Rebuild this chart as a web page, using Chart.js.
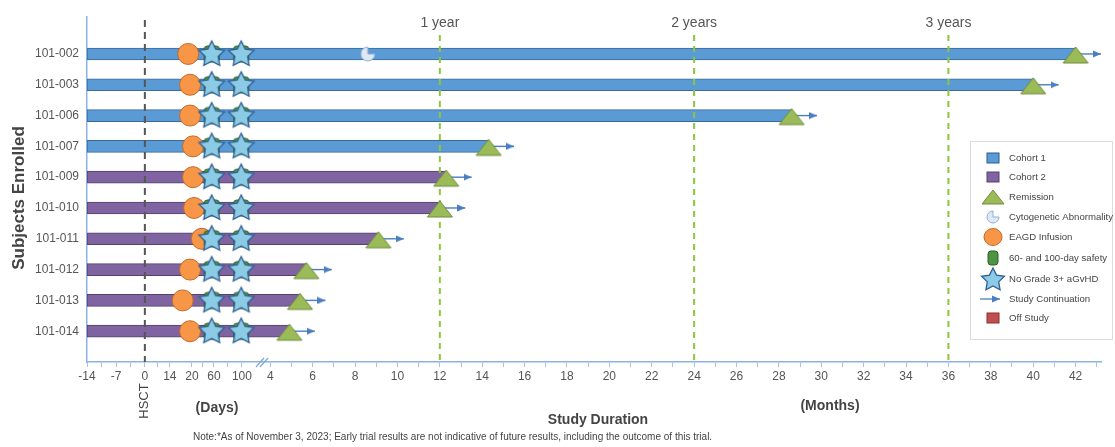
<!DOCTYPE html>
<html>
<head>
<meta charset="utf-8">
<script src="https://cdn.jsdelivr.net/npm/chart.js@4.4.0/dist/chart.umd.min.js"></script>
<style>
  body { margin: 0; background: #fff; }
  #wrap { position: relative; width: 1115px; height: 447px; }
</style>
</head>
<body>
<div id="wrap"><canvas id="myChart"></canvas></div>
<script>
// ---- data ----
const subjects = ['101-002', '101-003', '101-006', '101-007', '101-009', '101-010', '101-011', '101-012', '101-013', '101-014'];
const cohort = [1, 1, 1, 1, 2, 2, 2, 2, 2, 2];
const infusionDays = [19, 19.5, 19.5, 22, 22, 24, 38, 19.5, 17.5, 19.5];   // EAGD infusion (days)
const safetyDays = [56, 99];                                              // 60- and 100-day safety
const noGvhdDays = [56, 99];                                              // no grade 3+ aGvHD
const studyEndMonths = [42, 40, 28.6, 14.3, 12.3, 12, 9.1, 5.7, 5.4, 4.9];
const remissionMonths = [42, 40, 28.6, 14.3, 12.3, 12, 9.1, 5.7, 5.4, 4.9];
const continuationTipMonths = [43.2, 41.2, 29.8, 15.5, 13.5, 13.2, 10.3, 6.9, 6.6, 6.1];
const cytoSubjects = [0];
const cytoMonths = [8.6];
const studyStartDay = -14;

const dayTicks = [-14, -7, 0, 14, 20, 60, 100];
const monthTicks = [4, 6, 8, 10, 12, 14, 16, 18, 20, 22, 24, 26, 28, 30, 32, 34, 36, 38, 40, 42];
const yearMonths = [12, 24, 36];
const yearLabels = ['1 year', '2 years', '3 years'];

// ---- broken x axis: days section is squeezed in front of the months ----
const dayAnchor = [-14, -7, 0, 14, 20, 60, 100];
const dayAxisPos = [-4.65, -3.28, -1.92, -0.74, 0.30, 1.34, 2.66];
function dayPos(d) {
  for (let i = 0; i < dayAnchor.length - 1; i++) {
    if (d <= dayAnchor[i + 1] || i === dayAnchor.length - 2) {
      const t = (d - dayAnchor[i]) / (dayAnchor[i + 1] - dayAnchor[i]);
      return dayAxisPos[i] + t * (dayAxisPos[i + 1] - dayAxisPos[i]);
    }
  }
}

const FONT = "'Helvetica Neue', Helvetica, 'Liberation Sans', Arial, sans-serif";

// ---- marker icons ----
function makeIcon(w, h, draw) {
  const c = document.createElement('canvas');
  c.width = w; c.height = h;
  draw(c.getContext('2d'), w, h);
  return c;
}
function starPath(ctx, cx, cy, R, r) {
  ctx.beginPath();
  for (let k = 0; k < 10; k++) {
    const a = -Math.PI / 2 + k * Math.PI / 5;
    const rad = k % 2 ? r : R;
    ctx.lineTo(cx + Math.cos(a) * rad, cy + Math.sin(a) * rad);
  }
  ctx.closePath();
}
function drawStar(ctx, cx, cy, R) {
  starPath(ctx, cx, cy, R, R * 0.5);
  ctx.fillStyle = '#8ccbe5';
  ctx.fill();
  ctx.strokeStyle = '#2f5f91';
  ctx.lineWidth = 1.3;
  ctx.stroke();
}
function drawTri(ctx, cx, cy, w, h) {
  ctx.beginPath();
  ctx.moveTo(cx - w / 2, cy + h / 2);
  ctx.lineTo(cx + w / 2, cy + h / 2);
  ctx.lineTo(cx, cy - h / 2);
  ctx.closePath();
  ctx.fillStyle = '#9bbb59';
  ctx.fill();
  ctx.strokeStyle = '#6f8c3a';
  ctx.lineWidth = 1;
  ctx.stroke();
}
function drawCyto(ctx, cx, cy, r) {
  ctx.beginPath();
  ctx.moveTo(cx, cy);
  ctx.arc(cx, cy, r, 0, Math.PI * 1.5);
  ctx.closePath();
  ctx.fillStyle = '#dfe8f3';
  ctx.fill();
  ctx.strokeStyle = '#8fb0d6';
  ctx.lineWidth = 1;
  ctx.stroke();
}
function drawSafety(ctx, x, y, w, h) {
  ctx.beginPath();
  ctx.roundRect(x, y, w, h, 3);
  ctx.fillStyle = '#4e9444';
  ctx.fill();
  ctx.strokeStyle = '#2c5f27';
  ctx.lineWidth = 1;
  ctx.stroke();
}

const starImg = makeIcon(30, 30, (ctx) => drawStar(ctx, 15, 15.5, 13.5));
const safetyImg = makeIcon(20, 20, (ctx) => drawSafety(ctx, 2.5, 2, 15, 16));
const triImg = makeIcon(28, 22, (ctx) => drawTri(ctx, 14, 12, 25, 16));
const cytoImg = makeIcon(18, 18, (ctx) => drawCyto(ctx, 9, 9, 7));
const arrowImg = makeIcon(16, 8, (ctx) => {
  ctx.beginPath();
  ctx.moveTo(0, 0.5); ctx.lineTo(8, 4); ctx.lineTo(0, 7.5); ctx.closePath();
  ctx.fillStyle = '#4a7ebf';
  ctx.fill();
});

// ---- datasets ----
const barStart = dayPos(studyStartDay);
function cohortBars(n) {
  return subjects.map((s, i) => i).filter(i => cohort[i] === n)
    .map(i => ({ x: [barStart, studyEndMonths[i]], y: i }));
}

const barCommon = {
  type: 'bar', indexAxis: 'y', barThickness: 12, grouped: false,
  borderWidth: 1, borderSkipped: false
};

const datasets = [
  { ...barCommon, label: 'Cohort 1', data: cohortBars(1), backgroundColor: '#5b9bd5', borderColor: '#3a6a9c', order: 11 },
  { ...barCommon, label: 'Cohort 2', data: cohortBars(2), backgroundColor: '#8064a2', borderColor: '#55406f', order: 10 },
];

subjects.forEach((s, i) => {
  datasets.push({
    type: 'line', label: 'cont ' + s, order: 6,
    data: [{ x: studyEndMonths[i], y: i }, { x: continuationTipMonths[i], y: i }],
    borderColor: '#4a7ebf', borderWidth: 1.4, pointRadius: 0
  });
});

datasets.push({
  type: 'line', label: 'Study Continuation', order: 5, showLine: false,
  data: continuationTipMonths.map((m, i) => ({ x: m, y: i })),
  pointStyle: arrowImg, pointRadius: 4
});
datasets.push({
  type: 'line', label: 'Cytogenetic Abnormality', order: 5, showLine: false,
  data: cytoSubjects.map((r, k) => ({ x: cytoMonths[k], y: r })),
  pointStyle: cytoImg, pointRadius: 7
});
datasets.push({
  type: 'line', label: 'Remission', order: 4, showLine: false,
  data: remissionMonths.map((m, i) => ({ x: m, y: i })),
  pointStyle: triImg, pointRadius: 10
});
datasets.push({
  type: 'line', label: 'EAGD Infusion', order: 3, showLine: false,
  data: infusionDays.map((d, i) => ({ x: dayPos(d), y: i })),
  pointStyle: 'circle', pointRadius: 10.5, pointBackgroundColor: '#f79646',
  pointBorderColor: '#c56a28', pointBorderWidth: 1
});
datasets.push({
  type: 'line', label: '60- and 100-day safety', order: 2, showLine: false,
  data: subjects.flatMap((s, i) => safetyDays.map(d => ({ x: dayPos(d), y: i }))),
  pointStyle: safetyImg, pointRadius: 8
});
datasets.push({
  type: 'line', label: 'No Grade 3+ aGvHD', order: 1, showLine: false,
  data: subjects.flatMap((s, i) => noGvhdDays.map(d => ({ x: dayPos(d), y: i }))),
  pointStyle: starImg, pointRadius: 13
});

// ---- extra drawing: reference lines, titles, legend ----
const overlay = {
  id: 'overlay',
  afterDatasetDraw(chart, args) {
    if (args.meta.label !== 'Cohort 2') return;
    const { ctx, chartArea, scales: { x } } = chart;
    ctx.save();
    // HSCT line
    ctx.setLineDash([7, 5]);
    ctx.strokeStyle = '#555';
    ctx.lineWidth = 2;
    const hx = x.getPixelForValue(dayPos(0));
    ctx.beginPath(); ctx.moveTo(hx, 20); ctx.lineTo(hx, chartArea.bottom); ctx.stroke();
    // year lines
    ctx.setLineDash([6, 5]);
    ctx.strokeStyle = '#8cc63e';
    yearMonths.forEach(m => {
      const px = x.getPixelForValue(m);
      ctx.beginPath(); ctx.moveTo(px, 35); ctx.lineTo(px, chartArea.bottom); ctx.stroke();
    });
    ctx.restore();
  },
  afterDraw(chart) {
    const { ctx, chartArea, scales: { x } } = chart;
    ctx.save();
    ctx.textBaseline = 'middle';
    // year labels
    ctx.fillStyle = '#555';
    ctx.font = '14px ' + FONT;
    ctx.textAlign = 'center';
    yearMonths.forEach((m, k) => ctx.fillText(yearLabels[k], x.getPixelForValue(m), 23));

    // axis break
    ctx.strokeStyle = '#7fa6d6';
    ctx.lineWidth = 1.2;
    [0, 4].forEach(o => {
      ctx.beginPath(); ctx.moveTo(256 + o, 367); ctx.lineTo(264 + o, 358); ctx.stroke();
    });

    // HSCT label
    ctx.fillStyle = '#444';
    ctx.font = '13px ' + FONT;
    ctx.save();
    ctx.translate(x.getPixelForValue(dayPos(0)), 401);
    ctx.rotate(-Math.PI / 2);
    ctx.fillText('HSCT', 0, 0);
    ctx.restore();

    ctx.font = 'bold 14px ' + FONT;
    ctx.fillText('(Days)', 217, 408);
    ctx.fillText('(Months)', 830, 406);
    ctx.fillText('Study Duration', 598, 420);

    // y title
    ctx.save();
    ctx.font = 'bold 17px ' + FONT;
    ctx.translate(19, 198);
    ctx.rotate(-Math.PI / 2);
    ctx.fillText('Subjects Enrolled', 0, 0);
    ctx.restore();

    // note
    ctx.textAlign = 'left';
    ctx.font = '10px ' + FONT;
    ctx.fillStyle = '#444';
    ctx.fillText('Note:*As of November 3, 2023; Early trial results are not indicative of future results, including the outcome of this trial.', 193, 437);

    // legend box
    ctx.fillStyle = '#fff';
    ctx.strokeStyle = '#dcdcdc';
    ctx.lineWidth = 1;
    ctx.fillRect(970.5, 141.5, 142, 198);
    ctx.strokeRect(970.5, 141.5, 142, 198);
    const ix = 993, tx = 1009;
    const rows = [158, 177, 197, 217, 237, 258, 279, 299, 318];
    const names = ['Cohort 1', 'Cohort 2', 'Remission', 'Cytogenetic Abnormality', 'EAGD Infusion',
      '60- and 100-day safety', 'No Grade 3+ aGvHD', 'Study Continuation', 'Off Study'];
    const box = (y, fill, stroke) => {
      ctx.fillStyle = fill; ctx.fillRect(ix - 6, y - 5, 12, 10);
      ctx.strokeStyle = stroke; ctx.strokeRect(ix - 6, y - 5, 12, 10);
    };
    box(rows[0], '#5b9bd5', '#2e5b8c');
    box(rows[1], '#8064a2', '#55406f');
    drawTri(ctx, ix, rows[2], 22, 14);
    drawCyto(ctx, ix, rows[3], 6);
    ctx.beginPath(); ctx.ellipse(ix, rows[4], 9, 8.5, 0, 0, Math.PI * 2);
    ctx.fillStyle = '#f79646'; ctx.fill(); ctx.strokeStyle = '#c56a28'; ctx.stroke();
    drawSafety(ctx, ix - 5, rows[5] - 7, 10, 14);
    drawStar(ctx, ix, rows[6] + 1, 12);
    ctx.strokeStyle = '#4a7ebf'; ctx.lineWidth = 1.3;
    ctx.beginPath(); ctx.moveTo(980, rows[7]); ctx.lineTo(1000, rows[7]); ctx.stroke();
    ctx.drawImage(arrowImg, 1000 - 8, rows[7] - 4);
    ctx.lineWidth = 1;
    box(rows[8], '#c0504d', '#8c2f2d');

    ctx.fillStyle = '#444';
    ctx.font = '9.6px ' + FONT;
    ctx.textAlign = 'left';
    names.forEach((n, k) => ctx.fillText(n, tx, rows[k]));
    ctx.restore();
  }
};

const myChart = document.getElementById('myChart');

let timeline = new Chart(myChart, {
  type: 'bar',
  data: { datasets: datasets },
  options: {
    responsive: true,
    maintainAspectRatio: false,
    animation: false,
    layout: { padding: { top: 17, right: 12, left: 0, bottom: 0 } },
    plugins: { legend: { display: false }, tooltip: { enabled: false } },
    scales: {
      x: {
        type: 'linear',
        offset: false,
        min: dayPos(studyStartDay),
        max: 43.2,
        afterBuildTicks: (scale) => {
          const t = [];
          dayTicks.forEach(d => t.push({ value: dayPos(d), lbl: String(d) }));
          [-10.5, -3.5, 7, 40, 80].forEach(d => t.push({ value: dayPos(d), lbl: '' }));
          monthTicks.forEach(m => t.push({ value: m, lbl: String(m) }));
          monthTicks.forEach(m => t.push({ value: m + 1, lbl: '' }));
          scale.ticks = t.sort((a, b) => a.value - b.value);
        },
        afterFit: (scale) => { scale.height = 85; },
        ticks: {
          autoSkip: false, maxRotation: 0, padding: 2,
          color: '#555', font: { size: 12, family: FONT },
          callback: (v, i, t) => t[i].lbl
        },
        grid: { offset: false, drawOnChartArea: false, tickLength: 5, color: '#a9c3e3' },
        border: { color: '#8db3e2', width: 1.5 }
      },
      y: {
        type: 'linear',
        offset: false,
        reverse: true,
        min: -1.2,
        max: 10,
        afterBuildTicks: (scale) => {
          scale.ticks = subjects.map((s, i) => ({ value: i }));
        },
        afterFit: (scale) => { scale.width = 87; },
        ticks: {
          padding: 8, color: '#555', font: { size: 12, family: FONT },
          callback: (v) => subjects[v]
        },
        grid: { offset: false, display: false, drawTicks: false },
        border: { color: '#8db3e2', width: 1.5 }
      }
    }
  },
  plugins: [overlay]
});
</script>
</body>
</html>
